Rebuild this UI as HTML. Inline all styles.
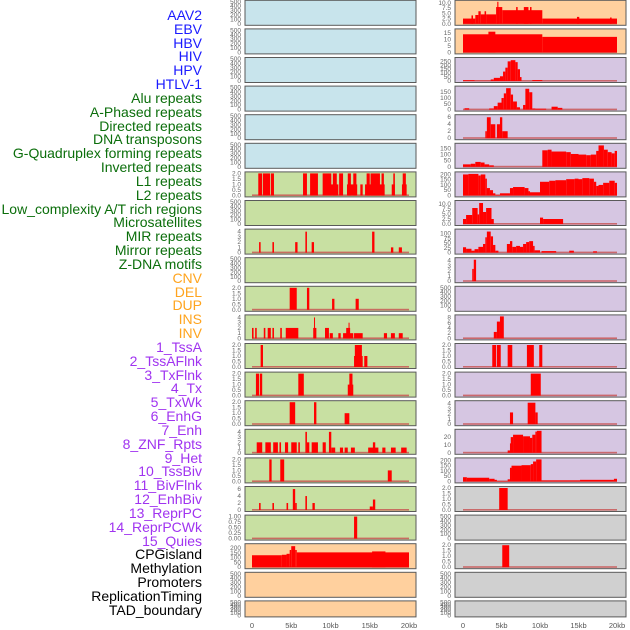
<!DOCTYPE html>
<html><head><meta charset="utf-8"><style>
html,body{margin:0;padding:0;background:#fff;width:630px;height:630px;overflow:hidden;position:relative}
.lab{position:absolute;right:428px;font-family:"Liberation Sans",sans-serif;font-size:14px;line-height:14px;white-space:nowrap;text-align:right}
svg{position:absolute;left:0;top:0}
</style></head><body>
<div id="labels"></div>
<svg id="chart" width="630" height="630"></svg>
<script>
// ---- labels ----
const labelNames = ["AAV2","EBV","HBV","HIV","HPV","HTLV-1","Alu repeats","A-Phased repeats","Directed repeats","DNA transposons","G-Quadruplex forming repeats","Inverted repeats","L1 repeats","L2 repeats","Low_complexity A/T rich regions","Microsatellites","MIR repeats","Mirror repeats","Z-DNA motifs","CNV","DEL","DUP","INS","INV","1_TssA","2_TssAFlnk","3_TxFlnk","4_Tx","5_TxWk","6_EnhG","7_Enh","8_ZNF_Rpts","9_Het","10_TssBiv","11_BivFlnk","12_EnhBiv","13_ReprPC","14_ReprPCWk","15_Quies","CPGisland","Methylation","Promoters","ReplicationTiming","TAD_boundary"];
const labelGroups = [6,13,5,15,5];
const groupColors = ["#1a1aff","#0b6e0b","#ffa41e","#a033f0","#000000"];
// ---- panel data: [startKb, endKb, value] ----
const L6=[[0.8,1.3,2],[1.4,2.3,2],[2.4,2.8,2],[6.5,7.0,2],[7.4,8.4,2],[9.0,10.1,2],[10.0,11.0,1],[10.3,10.8,2],[11.1,11.6,2],[12.1,13.4,1],[12.2,12.6,2],[12.9,13.3,2],[13.8,14.1,1],[14.4,16.9,1],[14.6,15.0,2],[15.1,16.3,2],[16.5,16.8,2],[17.8,18.2,1],[18.0,18.2,2],[19.1,19.7,1],[19.2,19.6,2]];
const L8=[[0.9,1.1,2],[2.6,2.8,2],[5.5,5.8,2],[6.8,7.0,4],[7.6,7.9,2],[15.3,15.6,4],[17.7,18.0,1],[18.7,19.1,1]];
const L10=[[4.8,5.7,2],[7.0,7.3,2],[10.2,10.5,1],[13.2,13.6,1]];
const L11=[[0.0,0.2,2],[0.4,0.6,2],[1.5,1.7,2],[2.0,2.4,2],[2.6,2.8,2],[3.6,3.8,2],[4.3,5.9,2],[7.8,8.2,2],[7.9,8.0,4],[9.3,9.8,2],[9.9,10.3,1],[11.0,11.3,1],[11.6,12.9,1],[12.0,12.5,2],[12.3,12.4,3],[13.0,14.1,1],[16.8,17.2,1],[17.7,18.2,1],[18.7,19.2,1]];
const L12=[[1.1,1.4,2],[13.0,14.1,1],[13.1,14.0,2],[14.3,14.7,1]];
const L13=[[0.5,0.9,2],[1.0,1.3,2],[5.9,6.6,2],[12.2,12.9,1],[12.4,12.8,2]];
const L14=[[4.8,5.5,2],[7.9,8.2,2],[11.8,12.4,1]];
const L15=[[0.6,1.3,2],[1.7,2.4,2],[2.7,3.3,2],[3.5,3.7,2],[4.2,4.6,2],[5.0,5.7,2],[5.9,6.1,2],[6.8,7.0,4],[7.0,7.3,2],[7.6,8.4,2],[9.0,9.4,2],[9.8,10.1,4],[10.1,10.6,1],[11.2,11.6,1],[11.8,12.2,1],[12.6,13.1,1],[14.8,16.1,1],[15.4,15.7,2],[16.6,17.0,1],[17.7,18.3,1],[19.0,19.7,1]];
const L16=[[2.2,2.5,2],[3.6,4.1,2],[17.3,17.8,1]];
const L17=[[0.9,1.1,2],[2.6,2.8,2],[4.4,4.6,2],[5.2,5.5,6],[5.5,5.7,2],[6.8,7.0,4],[7.7,8.0,2],[15.0,15.4,1],[15.4,15.7,3]];
const L18=[[13.0,13.4,1]];
const L19=[[0,3.8,125],[3.8,4.4,130],[4.4,4.8,140],[4.8,5.0,180],[5.0,5.5,220],[5.5,5.7,180],[5.7,20,155],[15.3,17.0,165]];
const R0=[[0,1.6,2.5],[1.1,1.3,4],[1.6,2.0,4.2],[2.0,2.3,6],[2.3,2.9,4.5],[2.8,3.0,6],[3.0,4.3,4.5],[4.3,4.8,8],[4.45,4.6,10.5],[4.8,5.1,8],[5.1,10.3,6.5],[6.9,7.1,8],[7.9,8.5,8],[8.7,8.9,8],[10.3,20,2.5],[14.8,15.1,3.3],[19.1,19.3,3]];
const R1=[[0,10.3,14],[3.3,4.2,16],[10.3,20,12]];
const R2=[[0,1.5,10],[1.5,3.6,3],[3.6,4.0,20],[4.0,4.8,40],[4.8,5.2,60],[5.2,5.5,120],[5.5,5.8,170],[5.8,6.2,250],[6.2,6.8,265],[6.8,7.1,240],[7.1,7.4,150],[7.4,7.6,50],[9.0,10.3,12]];
const R3=[[0.2,0.8,12],[3.4,4.0,10],[4.0,4.5,30],[4.5,5.0,60],[5.0,5.3,100],[5.3,5.6,140],[5.6,6.2,185],[6.2,6.5,130],[6.5,7.0,70],[7.0,7.4,20],[7.8,8.1,40],[8.1,8.6,180],[8.6,9.0,150],[9.0,9.4,10],[9.4,10.8,8],[11.5,12.3,25],[12.3,12.9,15]];
const R4=[[2.9,3.1,2],[3.1,3.6,6],[3.6,4.2,4],[4.4,4.8,4],[4.8,5.1,6],[5.1,5.8,2]];
const R5=[[0,1.0,20],[1.0,1.6,25],[1.6,2.3,40],[2.3,2.8,35],[2.8,3.4,20],[3.4,4.0,12],[10.3,11.0,135],[11.0,11.5,140],[11.5,13.4,125],[13.4,14.0,120],[14.0,15.0,105],[15.0,16.0,100],[16.0,16.6,95],[16.6,17.3,100],[17.3,17.6,130],[17.6,18.3,175],[18.3,18.8,140],[18.8,19.3,120],[19.3,19.7,110],[19.7,20,130]];
const R6=[[0,0.7,200],[0.7,2.0,205],[2.0,2.3,190],[2.3,2.9,200],[2.9,3.1,160],[3.1,3.5,70],[3.5,3.9,50],[3.9,4.2,20],[4.2,4.8,5],[4.8,6.1,20],[6.1,6.5,70],[6.5,8.0,80],[8.0,8.5,70],[8.5,8.7,40],[8.7,10.0,30],[10.0,11.2,130],[11.2,12.0,140],[12.0,13.4,145],[13.4,14.5,155],[14.5,15.0,160],[15.0,15.5,155],[15.5,16.4,165],[16.4,17.0,160],[17.0,17.3,130],[17.3,17.6,90],[17.6,18.2,100],[18.2,19.0,120],[19.0,19.7,140],[19.7,20,120]];
const R7=[[0,0.4,2.5],[0.4,1.2,4.5],[1.2,1.9,8],[1.9,2.1,4.8],[2.1,2.6,10.5],[2.6,3.0,6],[3.0,3.7,8],[3.7,4.0,2.5],[10.0,10.4,3.2],[10.4,13.0,2.5]];
const R8=[[0,0.4,28],[0.4,1.1,20],[1.1,1.5,10],[1.5,2.0,18],[2.0,2.6,30],[2.6,2.9,45],[2.9,3.1,80],[3.1,3.6,110],[3.6,3.9,85],[3.9,4.2,40],[4.2,4.6,10],[5.7,6.1,45],[6.1,6.4,60],[6.4,6.9,30],[6.9,7.4,35],[7.4,7.8,30],[7.8,8.2,45],[8.2,8.6,55],[8.6,9.1,60],[9.1,9.3,35],[9.3,10.0,12],[10.2,12.1,8],[13.8,14.4,10],[16.9,17.4,7]];
const R9=[[1.2,1.4,2.4],[1.4,1.7,4.2]];
const R11=[[4.0,4.4,2.5],[4.4,4.8,6.5],[4.8,5.3,8.5]];
const R12=[[3.8,4.3,2],[4.4,4.9,2],[5.8,6.4,2],[8.3,9.2,2],[9.9,10.3,2]];
const R13=[[8.8,10.1,2]];
const R14=[[6.1,6.5,2.3],[8.4,9.4,4.2],[9.4,9.7,2.3]];
const R15=[[5.8,6.1,3],[6.1,6.2,12],[6.2,6.5,20],[6.5,7.8,23],[7.8,8.7,21],[8.7,9.0,19],[9.0,9.4,23],[9.4,9.6,27],[9.6,10.2,28]];
const R16=[[0,0.5,40],[0.5,3.4,35],[3.4,4.1,25],[4.1,4.4,15],[4.4,5.8,3],[5.8,6.1,20],[6.1,6.3,130],[6.3,7.6,150],[7.6,8.8,155],[8.8,9.1,165],[9.1,9.5,190],[9.5,10.2,210],[10.2,15.2,10],[15.2,19.6,15],[19.6,20,25]];
const R17=[[4.7,5.8,2]];
const R19=[[5.1,6.0,2]];
// ---- panel specs: data, ymax, tick labels ----
const E=[], T500=["0","100","200","300","400","500"], T2=["0.0","0.5","1.0","1.5","2.0"];
const leftData=[E,E,E,E,E,E,L6,E,L8,E,L10,L11,L12,L13,L14,L15,L16,L17,L18,L19,E,E];
const leftMax=[500,500,500,500,500,500,2,500,4.2,500,2,4.2,2,2,2,4.2,2,6.3,1,230,500,500];
const leftTicks=[T500,T500,T500,T500,T500,T500,T2,T500,["0","1","2","3","4"],T500,T2,["0","1","2","3","4"],T2,T2,T2,["0","1","2","3","4"],T2,["0","2","4","6"],["0.00","0.25","0.50","0.75","1.00"],["0","50","100","150","200"],T500,T500];
const rightData=[R0,R1,R2,R3,R4,R5,R6,R7,R8,R9,E,R11,R12,R13,R14,R15,R16,R17,E,R19,E,E];
const rightMax=[10.5,17,280,190,6.3,180,210,11,115,4.3,500,8.5,2,2,4.3,28,210,2,500,2,500,500];
const rightTicks=[["0.0","2.5","5.0","7.5","10.0"],["0","5","10","15"],["0","50","100","150","200","250"],["0","50","100","150"],["0","2","4","6"],["0","50","100","150"],["0","50","100","150","200"],["0.0","2.5","5.0","7.5","10.0"],["0","25","50","75","100"],["0","1","2","3","4"],T500,["0","2","4","6","8"],T2,T2,["0","1","2","3","4"],["0","10","20"],["0","50","100","150","200"],T2,T500,T2,T500,T500];
const leftBg=["#c8e4ec","#c8e4ec","#c8e4ec","#c8e4ec","#c8e4ec","#c8e4ec","#c8e0a2","#c8e0a2","#c8e0a2","#c8e0a2","#c8e0a2","#c8e0a2","#c8e0a2","#c8e0a2","#c8e0a2","#c8e0a2","#c8e0a2","#c8e0a2","#c8e0a2","#ffd09e","#ffd09e","#ffd09e"];
const rightBg=["#ffd09e","#ffd09e","#d6c6e2","#d6c6e2","#d6c6e2","#d6c6e2","#d6c6e2","#d6c6e2","#d6c6e2","#d6c6e2","#d6c6e2","#d6c6e2","#d6c6e2","#d6c6e2","#d6c6e2","#d6c6e2","#d6c6e2","#d0d0d0","#d0d0d0","#d0d0d0","#d0d0d0","#d0d0d0"];
const xTicks=[0,5,10,15,20];
const xTickLabels=["0","5kb","10kb","15kb","20kb"];

// labels
const labBox=document.getElementById('labels');
let gi=0,cnt=0;
labelNames.forEach((n,i)=>{
  while(cnt>=labelGroups[gi]){cnt=0;gi++;}
  const d=document.createElement('div');
  d.className='lab';
  d.style.top=(8+i*13.83)+'px';
  d.style.color=groupColors[gi];
  d.textContent=n;
  
  
  labBox.appendChild(d);
  cnt++;
});

const NS="http://www.w3.org/2000/svg";
const svg=document.getElementById('chart');
function mk(tag,attrs,parent){const e=document.createElementNS(NS,tag);for(const k in attrs)e.setAttribute(k,attrs[k]);(parent||svg).appendChild(e);return e;}
const cols=[{x:245,w:171,x0:252,x1:409,tx:241,data:leftData,max:leftMax,ticks:leftTicks,bg:leftBg,name:'left'},
            {x:455,w:171,x0:463,x1:617,tx:451,data:rightData,max:rightMax,ticks:rightTicks,bg:rightBg,name:'right'}];
cols.forEach(c=>{
  const xs=kb=>c.x0+(c.x1-c.x0)*kb/20;
  for(let i=0;i<22;i++){
    const top=0.3+i*28.6, h=(i===21?16:25);
    const g=mk('g',{});
    
    
    const bg=mk('rect',{x:c.x,y:top,width:c.w,height:h,fill:c.bg[i],stroke:'#5a5a5a','stroke-width':1},g);
    
    
    const y0=top+h-1.5, yt=top+1.5, ymax=c.max[i];
    const ys=v=>y0-(y0-yt)*v/ymax;
    const tk=c.ticks[i];
    tk.forEach(t=>{
      const v=parseFloat(t);
      const tx=mk('text',{x:c.tx,y:ys(v)+2,'text-anchor':'end','font-family':'Liberation Sans, sans-serif','font-size':6.5,fill:'#666'},g);
      tx.textContent=t;
      
      
    });
    const d=c.data[i];
    if(d.length){
      const bl=mk('rect',{x:xs(0),y:y0-1,width:xs(20)-xs(0),height:1.6,fill:'#c85050',opacity:0.8},g);
      
      
      d.forEach(s=>{
        const r=mk('rect',{x:xs(s[0]),y:ys(s[2]),width:Math.max(1,xs(s[1])-xs(s[0])),height:y0-ys(s[2]),fill:'#ff0000'},g);
        
        
      });
    }
  }
  xTicks.forEach((v,k)=>{
    const t=mk('text',{x:xs(v),y:628,'text-anchor':'middle','font-family':'Liberation Sans, sans-serif','font-size':7.5,fill:'#555'});
    t.textContent=xTickLabels[k];
    
    
  });
});
</script>
</body></html>
